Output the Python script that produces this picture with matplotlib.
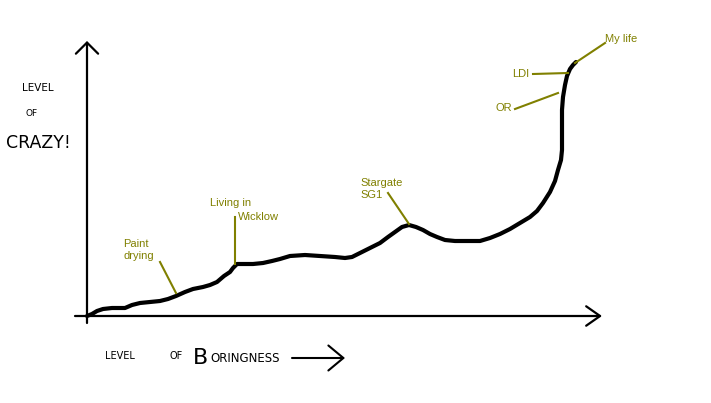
import matplotlib as mpl

mpl.use("Agg")

import matplotlib.pyplot as plt

# origin of the chart = where the two hand-drawn axes cross
# boringness grows to the right, crazy grows upward (units ~ screen pixels)
boringness = [0, 5, 10, 16, 25, 38, 45, 53, 63, 73, 81, 89, 98, 106, 116, 123,
              130, 137, 143, 146, 150, 158, 166, 176, 185, 193, 203, 218, 233,
              248, 258, 265, 273, 283, 293, 301, 308, 315, 322, 329, 336, 343,
              350, 358, 368, 383, 393, 403, 413, 423, 433, 443, 450, 456, 463,
              468, 471, 474, 475, 475, 475, 476, 478, 480, 483, 486, 489]
crazy = [0, 2, 5, 7, 8, 8, 11, 13, 14, 15, 17, 20, 24, 27, 29, 31,
         34, 40, 44, 48, 52, 52, 52, 53, 55, 57, 60, 61, 60,
         59, 58, 59, 63, 68, 73, 79, 84, 89, 91, 89, 86, 82,
         79, 76, 75, 75, 75, 78, 82, 87, 93, 99, 105, 113, 124,
         135, 146, 156, 166, 186, 206, 219, 231, 240, 247, 251, 254]

# things that happened along the way
event_labels = ["Paint\ndrying", "Living in", "Wicklow", "Stargate\nSG1", "OR", "LDI", "My life"]
label_x = [36, 123, 151, 273, 408, 425, 518]
label_y = [66, 113, 99, 127, 208, 242, 277]

pointer_from_x = [73, 148, 301, 428, 446, 488]
pointer_from_y = [54, 99, 123, 207, 242, 253]
pointer_to_x = [89, 148, 322, 471, 481, 518]
pointer_to_y = [23, 52, 92, 223, 243, 273]

OLIVE = "#808000"

fig = plt.figure(figsize=(7.11, 4.03), dpi=100)
ax = fig.add_axes([0, 0, 1, 1])
ax.set_xlim(-87, 624)
ax.set_ylim(-87, 316)
ax.axis("off")

# hand-drawn axes with open arrow heads
ax.annotate("", xy=(515, 0), xytext=(-12, 0),
            arrowprops=dict(arrowstyle="->,head_length=0.5,head_width=0.35",
                            lw=1.6, color="black", shrinkA=0, shrinkB=0,
                            mutation_scale=20))
ax.annotate("", xy=(0, 275), xytext=(0, -7),
            arrowprops=dict(arrowstyle="->,head_length=0.4,head_width=0.4",
                            lw=1.6, color="black", shrinkA=0, shrinkB=0,
                            mutation_scale=20))

# the life curve
ax.plot(boringness, crazy, color="black", lw=3.0, solid_capstyle="round",
        solid_joinstyle="round")

# pointers
for x0, y0, x1, y1 in zip(pointer_from_x, pointer_from_y, pointer_to_x, pointer_to_y):
    ax.plot([x0, x1], [y0, y1], color=OLIVE, lw=1.5)

for txt, x, y in zip(event_labels, label_x, label_y):
    ax.text(x, y, txt, ha="left", va="center", fontsize=8,
            family="Liberation Sans", color=OLIVE, linespacing=1.35)

# hand-lettered axis titles
hand = dict(family="DejaVu Sans", color="black")
ax.text(-49, 228, "LEVEL", ha="center", va="center", fontsize=7.5, **hand)
ax.text(-55, 203, "OF", ha="center", va="center", fontsize=6.5, **hand)
ax.text(-49, 173, "CRAZY!", ha="center", va="center", fontsize=12.5, **hand)

ax.text(18, -40, "LEVEL", ha="left", va="center", fontsize=7, **hand)
ax.text(83, -40, "OF", ha="left", va="center", fontsize=7, **hand)
ax.text(106, -42, "B", ha="left", va="center", fontsize=16, **hand)
ax.text(123, -42, "ORINGNESS", ha="left", va="center", fontsize=8.5, **hand)
ax.annotate("", xy=(258, -42), xytext=(205, -42),
            arrowprops=dict(arrowstyle="->,head_length=0.6,head_width=0.5",
                            lw=1.5, color="black", shrinkA=0, shrinkB=0,
                            mutation_scale=18))

fig.savefig("out.png", dpi=100, facecolor="white")
